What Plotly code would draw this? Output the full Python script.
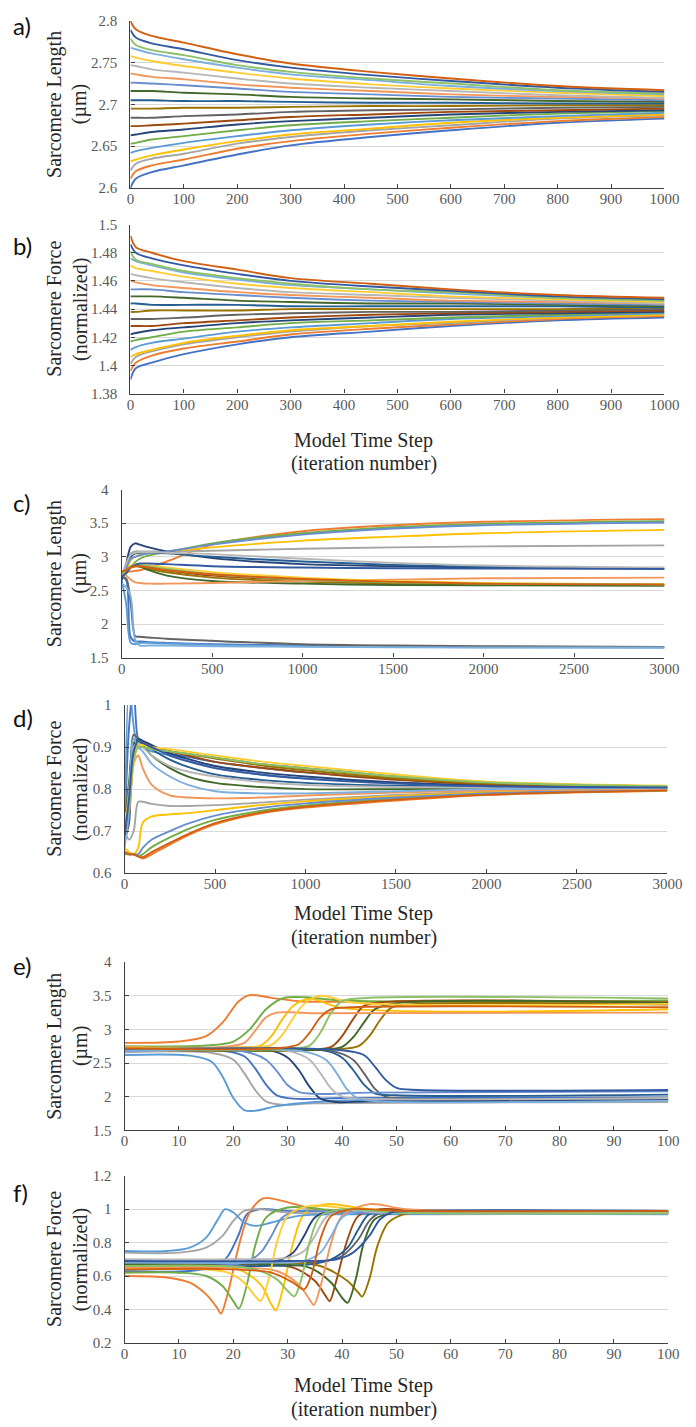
import plotly.graph_objects as go

W, H = 696, 1427

PALETTE = ["#4472C4", "#ED7D31", "#A5A5A5", "#FFC000", "#5B9BD5", "#70AD47",
           "#264478", "#9E480E", "#636363", "#997300", "#255E91", "#43682B",
           "#698ED0", "#F1975A", "#B7B7B7", "#FFCD33", "#7CAFDD", "#8CC168",
           "#335AA1", "#D26012"]

# ---------------- panel a : sarcomere length, 1000 steps ----------------
a_x = [0, 10, 40, 100, 200, 300, 450, 600, 800, 1000]
a_y = [
    [2.600, 2.611, 2.619, 2.627, 2.640, 2.651, 2.661, 2.669, 2.678, 2.683],
    [2.611, 2.620, 2.627, 2.634, 2.647, 2.656, 2.665, 2.672, 2.680, 2.685],
    [2.621, 2.629, 2.635, 2.641, 2.653, 2.661, 2.669, 2.675, 2.683, 2.687],
    [2.632, 2.634, 2.639, 2.646, 2.656, 2.664, 2.671, 2.678, 2.684, 2.688],
    [2.642, 2.644, 2.648, 2.654, 2.662, 2.669, 2.676, 2.681, 2.686, 2.690],
    [2.653, 2.654, 2.658, 2.662, 2.669, 2.675, 2.680, 2.684, 2.689, 2.692],
    [2.663, 2.664, 2.667, 2.670, 2.676, 2.680, 2.684, 2.688, 2.691, 2.693],
    [2.674, 2.674, 2.675, 2.677, 2.681, 2.685, 2.688, 2.691, 2.693, 2.695],
    [2.684, 2.684, 2.684, 2.686, 2.688, 2.691, 2.693, 2.694, 2.696, 2.697],
    [2.695, 2.695, 2.695, 2.696, 2.696, 2.697, 2.698, 2.698, 2.699, 2.699],
    [2.705, 2.705, 2.705, 2.704, 2.704, 2.703, 2.702, 2.702, 2.701, 2.701],
    [2.716, 2.716, 2.716, 2.714, 2.712, 2.709, 2.707, 2.706, 2.704, 2.703],
    [2.726, 2.726, 2.725, 2.723, 2.719, 2.715, 2.712, 2.709, 2.707, 2.705],
    [2.737, 2.736, 2.733, 2.730, 2.724, 2.720, 2.716, 2.712, 2.709, 2.707],
    [2.747, 2.746, 2.742, 2.738, 2.731, 2.725, 2.720, 2.716, 2.711, 2.708],
    [2.758, 2.756, 2.752, 2.746, 2.738, 2.731, 2.724, 2.719, 2.714, 2.710],
    [2.768, 2.766, 2.761, 2.754, 2.744, 2.736, 2.729, 2.722, 2.716, 2.712],
    [2.779, 2.771, 2.765, 2.759, 2.747, 2.739, 2.731, 2.725, 2.717, 2.713],
    [2.789, 2.780, 2.773, 2.766, 2.753, 2.744, 2.735, 2.728, 2.720, 2.715],
    [2.800, 2.790, 2.782, 2.774, 2.760, 2.749, 2.739, 2.731, 2.722, 2.717],
]

# ---------------- panel b : sarcomere force, 1000 steps ----------------
b_x = [0, 10, 40, 100, 200, 300, 450, 600, 800, 1000]
b_y = [
    [1.390, 1.398, 1.402, 1.408, 1.415, 1.420, 1.424, 1.428, 1.432, 1.434],
    [1.396, 1.402, 1.407, 1.412, 1.417, 1.422, 1.426, 1.429, 1.433, 1.435],
    [1.401, 1.406, 1.410, 1.415, 1.420, 1.424, 1.428, 1.430, 1.434, 1.436],
    [1.406, 1.408, 1.411, 1.416, 1.421, 1.425, 1.428, 1.431, 1.434, 1.436],
    [1.411, 1.413, 1.416, 1.419, 1.424, 1.427, 1.430, 1.433, 1.435, 1.437],
    [1.417, 1.418, 1.420, 1.424, 1.427, 1.430, 1.432, 1.434, 1.436, 1.438],
    [1.422, 1.423, 1.425, 1.427, 1.430, 1.432, 1.434, 1.436, 1.437, 1.438],
    [1.428, 1.428, 1.428, 1.430, 1.432, 1.434, 1.436, 1.437, 1.438, 1.439],
    [1.433, 1.433, 1.433, 1.434, 1.436, 1.437, 1.438, 1.438, 1.439, 1.440],
    [1.438, 1.438, 1.439, 1.439, 1.439, 1.440, 1.440, 1.440, 1.440, 1.441],
    [1.444, 1.444, 1.443, 1.443, 1.443, 1.442, 1.442, 1.442, 1.442, 1.441],
    [1.449, 1.449, 1.449, 1.448, 1.446, 1.445, 1.444, 1.444, 1.443, 1.442],
    [1.454, 1.454, 1.454, 1.452, 1.450, 1.448, 1.446, 1.445, 1.444, 1.443],
    [1.460, 1.459, 1.457, 1.455, 1.452, 1.450, 1.448, 1.446, 1.445, 1.444],
    [1.465, 1.464, 1.462, 1.459, 1.455, 1.452, 1.450, 1.448, 1.446, 1.444],
    [1.471, 1.469, 1.467, 1.463, 1.458, 1.455, 1.452, 1.449, 1.447, 1.445],
    [1.476, 1.474, 1.471, 1.466, 1.461, 1.457, 1.454, 1.451, 1.448, 1.446],
    [1.481, 1.475, 1.472, 1.467, 1.462, 1.458, 1.454, 1.452, 1.448, 1.446],
    [1.486, 1.480, 1.476, 1.471, 1.465, 1.460, 1.456, 1.453, 1.449, 1.447],
    [1.492, 1.484, 1.480, 1.474, 1.468, 1.462, 1.458, 1.454, 1.450, 1.448],
]

# ---------------- panel c : sarcomere length, 3000 steps ----------------
c_x = [0, 25, 50, 75, 100, 150, 250, 500, 1000, 1500, 2000, 3000]
c_y = [
    [2.70, 2.65, 1.80, 1.74, 1.74, 1.73, 1.72, 1.70, 1.68, 1.665, 1.66, 1.655],
    [2.78, 2.78, 2.78, 2.79, 2.80, 2.84, 2.93, 3.18, 3.38, 3.47, 3.52, 3.56],
    [2.72, 2.85, 3.05, 3.08, 3.08, 3.08, 3.08, 3.09, 3.12, 3.14, 3.155, 3.17],
    [2.70, 2.80, 2.95, 3.00, 3.03, 3.05, 3.08, 3.14, 3.24, 3.30, 3.35, 3.40],
    [2.65, 2.30, 1.72, 1.70, 1.72, 1.72, 1.71, 1.69, 1.67, 1.66, 1.655, 1.65],
    [2.70, 2.75, 2.85, 2.92, 2.97, 3.02, 3.07, 3.20, 3.35, 3.44, 3.49, 3.53],
    [2.65, 2.90, 3.15, 3.20, 3.18, 3.14, 3.08, 2.98, 2.89, 2.86, 2.84, 2.82],
    [2.75, 2.80, 2.85, 2.87, 2.86, 2.84, 2.80, 2.72, 2.65, 2.61, 2.59, 2.58],
    [2.70, 2.68, 2.30, 1.82, 1.81, 1.80, 1.78, 1.75, 1.70, 1.68, 1.67, 1.66],
    [2.72, 2.78, 2.84, 2.86, 2.85, 2.82, 2.77, 2.69, 2.63, 2.60, 2.59, 2.58],
    [2.70, 2.85, 3.00, 3.05, 3.06, 3.06, 3.05, 3.00, 2.93, 2.88, 2.85, 2.83],
    [2.74, 2.80, 2.86, 2.88, 2.86, 2.80, 2.72, 2.64, 2.60, 2.58, 2.575, 2.57],
    [2.72, 2.85, 2.97, 3.00, 3.02, 3.05, 3.08, 3.18, 3.33, 3.42, 3.47, 3.51],
    [2.76, 2.72, 2.66, 2.62, 2.61, 2.60, 2.60, 2.61, 2.64, 2.66, 2.68, 2.69],
    [2.72, 2.90, 3.03, 3.06, 3.07, 3.07, 3.06, 3.04, 2.97, 2.91, 2.87, 2.84],
    [2.76, 2.80, 2.86, 2.89, 2.89, 2.87, 2.84, 2.77, 2.69, 2.64, 2.61, 2.59],
    [2.60, 2.55, 2.40, 1.76, 1.68, 1.68, 1.68, 1.67, 1.66, 1.655, 1.65, 1.65],
    [2.74, 2.79, 2.85, 2.88, 2.88, 2.86, 2.82, 2.74, 2.66, 2.62, 2.60, 2.59],
    [2.70, 2.76, 2.84, 2.88, 2.90, 2.90, 2.89, 2.86, 2.84, 2.83, 2.825, 2.82],
    [2.78, 2.80, 2.84, 2.86, 2.86, 2.84, 2.80, 2.74, 2.67, 2.63, 2.60, 2.59],
]

# ---------------- panel d : sarcomere force, 3000 steps ----------------
d_x = [0, 25, 50, 75, 100, 150, 250, 350, 500, 750, 1000, 1500, 2000, 3000]
d_y = [
    [0.70, 0.95, 1.05, 0.92, 0.91, 0.90, 0.885, 0.877, 0.865, 0.851, 0.84, 0.825, 0.815, 0.806],
    [0.65, 0.645, 0.645, 0.64, 0.635, 0.645, 0.668, 0.69, 0.716, 0.742, 0.756, 0.773, 0.786, 0.796],
    [0.70, 0.68, 0.70, 0.77, 0.77, 0.765, 0.76, 0.76, 0.762, 0.768, 0.775, 0.786, 0.794, 0.800],
    [0.66, 0.65, 0.645, 0.66, 0.72, 0.735, 0.74, 0.743, 0.75, 0.762, 0.771, 0.783, 0.792, 0.799],
    [0.68, 1.05, 0.95, 0.90, 0.90, 0.89, 0.88, 0.868, 0.85, 0.835, 0.825, 0.815, 0.81, 0.805],
    [0.645, 0.645, 0.645, 0.64, 0.645, 0.662, 0.685, 0.705, 0.727, 0.748, 0.761, 0.777, 0.788, 0.797],
    [0.67, 0.75, 0.90, 0.92, 0.915, 0.905, 0.885, 0.872, 0.855, 0.84, 0.83, 0.816, 0.809, 0.805],
    [0.71, 0.76, 0.88, 0.915, 0.91, 0.90, 0.89, 0.88, 0.865, 0.851, 0.84, 0.822, 0.812, 0.806],
    [0.68, 0.72, 0.93, 0.92, 0.91, 0.90, 0.89, 0.884, 0.875, 0.86, 0.85, 0.83, 0.815, 0.806],
    [0.72, 0.76, 0.87, 0.91, 0.91, 0.90, 0.89, 0.883, 0.873, 0.857, 0.845, 0.826, 0.814, 0.807],
    [0.70, 0.80, 0.90, 0.92, 0.91, 0.895, 0.87, 0.853, 0.835, 0.822, 0.815, 0.808, 0.805, 0.803],
    [0.72, 0.82, 0.91, 0.915, 0.905, 0.88, 0.85, 0.83, 0.815, 0.805, 0.80, 0.80, 0.801, 0.802],
    [0.65, 0.645, 0.645, 0.645, 0.66, 0.68, 0.70, 0.718, 0.737, 0.755, 0.766, 0.78, 0.79, 0.798],
    [0.72, 0.75, 0.86, 0.88, 0.85, 0.81, 0.785, 0.78, 0.778, 0.78, 0.785, 0.792, 0.797, 0.801],
    [0.70, 0.80, 0.90, 0.91, 0.90, 0.88, 0.855, 0.842, 0.83, 0.817, 0.81, 0.805, 0.803, 0.802],
    [0.73, 0.77, 0.86, 0.905, 0.905, 0.90, 0.895, 0.889, 0.88, 0.866, 0.855, 0.835, 0.818, 0.808],
    [0.66, 0.75, 0.92, 0.90, 0.89, 0.86, 0.83, 0.81, 0.795, 0.79, 0.79, 0.795, 0.80, 0.804],
    [0.72, 0.76, 0.87, 0.90, 0.90, 0.895, 0.89, 0.884, 0.875, 0.86, 0.85, 0.83, 0.816, 0.807],
    [0.69, 0.78, 0.89, 0.915, 0.91, 0.90, 0.88, 0.866, 0.85, 0.835, 0.825, 0.813, 0.807, 0.804],
    [0.65, 0.645, 0.645, 0.64, 0.638, 0.65, 0.672, 0.693, 0.719, 0.744, 0.758, 0.775, 0.787, 0.797],
]

# ---------------- panel e : sarcomere length, 100 steps (per-line knots) ----------------
e_x = [
    [0, 18, 22, 24, 26, 28, 31, 40, 100],
    [0, 10, 15, 18, 21, 23, 27, 32, 40, 100],
    [0, 16, 20, 22, 24, 26, 29, 35, 100],
    [0, 20, 25, 27, 29, 31, 34, 40, 100],
    [0, 12, 16, 18, 20, 22, 24, 28, 35, 45, 100],
    [0, 15, 20, 23, 26, 29, 33, 40, 100],
    [0, 27, 30, 32, 34, 36, 39, 45, 100],
    [0, 34, 38, 40, 42, 44, 48, 100],
    [0, 38, 42, 44, 46, 48, 52, 100],
    [0, 38, 43, 45, 47, 49, 52, 100],
    [0, 37, 40, 42, 44, 46, 50, 100],
    [0, 36, 40, 42, 44, 46, 50, 100],
    [0, 22, 26, 28, 30, 32, 35, 45, 100],
    [0, 18, 22, 24, 26, 28, 35, 100],
    [0, 30, 34, 36, 38, 40, 44, 100],
    [0, 22, 27, 29, 31, 33, 36, 42, 100],
    [0, 33, 37, 39, 41, 43, 47, 100],
    [0, 30, 34, 36, 38, 40, 45, 100],
    [0, 40, 44, 46, 48, 50, 54, 100],
    [0, 28, 32, 34, 36, 38, 42, 100],
]
e_y = [
    [2.68, 2.68, 2.60, 2.42, 2.18, 2.02, 1.97, 1.98, 1.99],
    [2.80, 2.82, 2.90, 3.10, 3.42, 3.51, 3.47, 3.42, 3.41, 3.41],
    [2.66, 2.65, 2.55, 2.35, 2.10, 1.93, 1.88, 1.90, 1.92],
    [2.72, 2.73, 2.76, 2.90, 3.15, 3.35, 3.46, 3.32, 3.30],
    [2.62, 2.61, 2.52, 2.30, 1.98, 1.80, 1.79, 1.86, 1.92, 1.95, 1.95],
    [2.75, 2.76, 2.82, 3.00, 3.30, 3.46, 3.48, 3.43, 3.43],
    [2.69, 2.68, 2.58, 2.40, 2.15, 1.97, 1.92, 1.93, 1.95],
    [2.70, 2.70, 2.74, 2.90, 3.15, 3.35, 3.41, 3.40],
    [2.70, 2.68, 2.55, 2.35, 2.12, 2.00, 1.97, 1.98],
    [2.70, 2.70, 2.75, 2.90, 3.14, 3.32, 3.37, 3.37],
    [2.70, 2.68, 2.58, 2.40, 2.18, 2.05, 2.02, 2.03],
    [2.70, 2.70, 2.74, 2.88, 3.10, 3.30, 3.39, 3.39],
    [2.68, 2.67, 2.55, 2.38, 2.17, 2.07, 2.04, 2.06, 2.08],
    [2.74, 2.74, 2.80, 2.98, 3.18, 3.25, 3.24, 3.25],
    [2.69, 2.68, 2.55, 2.35, 2.12, 2.00, 1.97, 1.98],
    [2.73, 2.73, 2.77, 2.92, 3.17, 3.38, 3.50, 3.40, 3.38],
    [2.68, 2.67, 2.55, 2.35, 2.10, 1.97, 1.93, 1.94],
    [2.71, 2.71, 2.76, 2.95, 3.25, 3.42, 3.47, 3.46],
    [2.71, 2.69, 2.62, 2.45, 2.25, 2.13, 2.10, 2.10],
    [2.72, 2.72, 2.78, 2.95, 3.18, 3.30, 3.33, 3.33],
]

# ---------------- panel f : sarcomere force, 100 steps (per-line knots) ----------------
f_x = [
    [0, 12, 17, 19, 21, 22.5, 25, 30, 100],
    [0, 8, 12, 15, 17, 17.7, 19, 21, 23, 25.5, 29, 35, 45, 100],
    [0, 10, 15, 18, 20, 22, 25, 30, 100],
    [0, 16, 21, 25, 27, 27.8, 29.3, 31, 33, 37, 45, 100],
    [0, 8, 12, 15, 17, 18.5, 20, 22, 24, 27, 32, 40, 100],
    [0, 10, 15, 18, 20, 21, 22.5, 24, 26, 30, 40, 100],
    [0, 20, 28, 31, 33, 35, 38, 45, 100],
    [0, 25, 31, 35, 37, 37.7, 39, 41, 43, 47, 55, 100],
    [0, 28, 37, 40, 43, 45, 47, 52, 100],
    [0, 30, 36, 41, 43, 43.7, 45, 46.5, 48.5, 52, 58, 100],
    [0, 25, 34, 38, 41, 43, 45, 50, 100],
    [0, 28, 34, 38, 40, 41, 42.5, 44, 46, 50, 56, 100],
    [0, 15, 22, 25, 27, 29, 32, 40, 100],
    [0, 22, 28, 32, 34, 34.8, 36.2, 38, 40, 45, 52, 100],
    [0, 20, 30, 33, 35, 37, 40, 48, 100],
    [0, 14, 19, 22, 24, 25, 26.5, 28, 30, 34, 45, 100],
    [0, 25, 33, 36, 38, 40, 43, 50, 100],
    [0, 18, 24, 28, 30, 31.2, 32.5, 34, 36, 40, 50, 100],
    [0, 30, 39, 42, 45, 47, 49, 54, 100],
    [0, 20, 27, 31, 33, 34.3, 36, 38, 42, 50, 100],
]
f_y = [
    [0.63, 0.63, 0.66, 0.72, 0.85, 0.97, 1.00, 0.99, 0.985],
    [0.60, 0.59, 0.56, 0.49, 0.41, 0.375, 0.50, 0.78, 0.98, 1.065, 1.05, 1.00, 0.99, 0.99],
    [0.74, 0.74, 0.77, 0.84, 0.93, 0.99, 1.00, 0.98, 0.975],
    [0.66, 0.66, 0.64, 0.55, 0.43, 0.395, 0.55, 0.80, 0.97, 1.03, 1.00, 0.99],
    [0.75, 0.75, 0.77, 0.83, 0.93, 1.00, 0.98, 0.92, 0.90, 0.92, 0.96, 0.97, 0.97],
    [0.62, 0.62, 0.60, 0.54, 0.45, 0.405, 0.55, 0.78, 0.95, 1.01, 0.99, 0.985],
    [0.67, 0.67, 0.69, 0.74, 0.84, 0.95, 0.99, 0.98, 0.98],
    [0.67, 0.67, 0.65, 0.57, 0.48, 0.449, 0.58, 0.82, 0.96, 1.00, 0.99, 0.985],
    [0.68, 0.68, 0.69, 0.72, 0.82, 0.93, 0.98, 0.985, 0.98],
    [0.68, 0.68, 0.66, 0.57, 0.50, 0.477, 0.58, 0.78, 0.92, 0.975, 0.98, 0.975],
    [0.66, 0.66, 0.67, 0.70, 0.77, 0.88, 0.97, 0.985, 0.985],
    [0.67, 0.67, 0.65, 0.56, 0.47, 0.44, 0.58, 0.80, 0.94, 0.98, 0.98, 0.98],
    [0.66, 0.66, 0.68, 0.74, 0.84, 0.95, 0.99, 0.98, 0.98],
    [0.65, 0.65, 0.63, 0.55, 0.46, 0.427, 0.56, 0.80, 0.96, 1.03, 1.00, 0.99],
    [0.70, 0.70, 0.71, 0.75, 0.84, 0.95, 0.99, 0.98, 0.975],
    [0.64, 0.64, 0.62, 0.56, 0.48, 0.45, 0.58, 0.80, 0.96, 1.02, 0.99, 0.98],
    [0.68, 0.68, 0.69, 0.74, 0.84, 0.95, 0.99, 0.98, 0.975],
    [0.66, 0.66, 0.64, 0.58, 0.51, 0.478, 0.58, 0.80, 0.96, 1.00, 0.98, 0.975],
    [0.69, 0.69, 0.70, 0.74, 0.84, 0.94, 0.98, 0.99, 0.99],
    [0.64, 0.64, 0.62, 0.56, 0.52, 0.60, 0.82, 0.96, 1.00, 0.99, 0.99],
]

# ---------------- tick labels ----------------
x_ticks_1000 = [0, 100, 200, 300, 400, 500, 600, 700, 800, 900, 1000]
x_ticks_3000 = [0, 500, 1000, 1500, 2000, 2500, 3000]
x_ticks_100 = [0, 10, 20, 30, 40, 50, 60, 70, 80, 90, 100]
a_yticks = [2.6, 2.65, 2.7, 2.75, 2.8]
a_ytext = ["2.6", "2.65", "2.7", "2.75", "2.8"]
b_yticks = [1.38, 1.40, 1.42, 1.44, 1.46, 1.48, 1.50]
b_ytext = ["1.38", "1.4", "1.42", "1.44", "1.46", "1.48", "1.5"]
len_yticks = [1.5, 2, 2.5, 3, 3.5, 4]
len_ytext = ["1.5", "2", "2.5", "3", "3.5", "4"]
d_yticks = [0.6, 0.7, 0.8, 0.9, 1.0]
d_ytext = ["0.6", "0.7", "0.8", "0.9", "1"]
f_yticks = [0.2, 0.4, 0.6, 0.8, 1.0, 1.2]
f_ytext = ["0.2", "0.4", "0.6", "0.8", "1", "1.2"]

panels = [
    dict(label="a)", xs=a_x, ys=a_y, per_line=False, xr=[0, 1000], yr=[2.6, 2.8],
         xt=x_ticks_1000, yt=a_yticks, ytt=a_ytext, px=(130, 679), py=(13, 182),
         ytitle=("Sarcomere Length", "(µm)"), lab_y=18),
    dict(label="b)", xs=b_x, ys=b_y, per_line=False, xr=[0, 1000], yr=[1.38, 1.5],
         xt=x_ticks_1000, yt=b_yticks, ytt=b_ytext, px=(130, 679), py=(219, 390),
         ytitle=("Sarcomere Force", "(normalized)"), lab_y=240),
    dict(label="c)", xs=c_x, ys=c_y, per_line=False, xr=[0, 3000], yr=[1.5, 4],
         xt=x_ticks_3000, yt=len_yticks, ytt=len_ytext, px=(121, 679), py=(487, 657),
         ytitle=("Sarcomere Length", "(µm)"), lab_y=500),
    dict(label="d)", xs=d_x, ys=d_y, per_line=False, xr=[0, 3000], yr=[0.6, 1.0],
         xt=x_ticks_3000, yt=d_yticks, ytt=d_ytext, px=(124, 682), py=(705, 875),
         ytitle=("Sarcomere Force", "(normalized)"), lab_y=718),
    dict(label="e)", xs=e_x, ys=e_y, per_line=True, xr=[0, 100], yr=[1.5, 4],
         xt=x_ticks_100, yt=len_yticks, ytt=len_ytext, px=(124, 683), py=(965, 1135),
         ytitle=("Sarcomere Length", "(µm)"), lab_y=968),
    dict(label="f)", xs=f_x, ys=f_y, per_line=True, xr=[0, 100], yr=[0.2, 1.2],
         xt=x_ticks_100, yt=f_yticks, ytt=f_ytext, px=(124, 683), py=(1181, 1350),
         ytitle=("Sarcomere Force", "(normalized)"), lab_y=1198),
]

SERIF = "Liberation Serif, Times New Roman, DejaVu Serif, serif"
TICKFONT = dict(family=SERIF, size=15, color="#595959")
TITLEFONT = dict(family=SERIF, size=20, color="#262626")
AXCOL = "#404040"

fig = go.Figure()
layout = dict(width=W, height=H, margin=dict(l=0, r=0, t=0, b=0),
              paper_bgcolor="white", plot_bgcolor="white", showlegend=False,
              font=dict(family=SERIF))
annotations = []

for i, p in enumerate(panels, start=1):
    xa = "x" if i == 1 else f"x{i}"
    ya = "y" if i == 1 else f"y{i}"
    for k, yv in enumerate(p["ys"]):
        xv = p["xs"][k] if p["per_line"] else p["xs"]
        fig.add_trace(go.Scatter(x=xv, y=yv, mode="lines", xaxis=xa, yaxis=ya,
                                 line=dict(color=PALETTE[k % len(PALETTE)], width=1.9,
                                           shape="spline", smoothing=0.9),
                                 hoverinfo="skip"))
    l, r = p["px"]
    t, b = p["py"]
    layout[f"xaxis{i}"] = dict(domain=[l / W, r / W], range=p["xr"], anchor=ya,
                               tickvals=p["xt"], ticktext=[str(v) for v in p["xt"]],
                               showgrid=False, zeroline=False, showline=True,
                               linecolor=AXCOL, linewidth=1.3, ticks="inside",
                               ticklen=4, tickcolor=AXCOL, tickfont=TICKFONT,
                               ticklabelstandoff=-3, fixedrange=True)
    layout[f"yaxis{i}"] = dict(domain=[1 - b / H, 1 - t / H], range=p["yr"], anchor=xa,
                               tickvals=p["yt"], ticktext=p["ytt"],
                               showgrid=True, gridcolor="#D9D9D9", gridwidth=1,
                               zeroline=False, showline=True, linecolor=AXCOL,
                               linewidth=1.3, ticks="inside", ticklen=4, tickcolor=AXCOL,
                               tickfont=TICKFONT, ticklabelstandoff=9, fixedrange=True)
    cy = (t + b) / 2
    annotations.append(dict(text=p["ytitle"][0], x=52 / W, y=1 - cy / H, xref="paper",
                            yref="paper", textangle=-90, showarrow=False,
                            font=TITLEFONT, xanchor="center", yanchor="middle"))
    annotations.append(dict(text=p["ytitle"][1], x=78 / W, y=1 - cy / H, xref="paper",
                            yref="paper", textangle=-90, showarrow=False,
                            font=TITLEFONT, xanchor="center", yanchor="middle"))
    annotations.append(dict(text=p["label"], x=7 / W, y=1 - p["lab_y"] / H, xref="paper",
                            yref="paper", showarrow=False, xanchor="left",
                            yanchor="middle",
                            font=dict(family="Lato", size=24, color="#111111")))

for ty in (437, 916, 1393):
    annotations.append(dict(text="Model Time Step", x=370 / W, y=1 - ty / H,
                            xref="paper", yref="paper", showarrow=False,
                            xanchor="center", yanchor="middle", font=TITLEFONT))
    annotations.append(dict(text="(iteration number)", x=370 / W, y=1 - (ty + 24) / H,
                            xref="paper", yref="paper", showarrow=False,
                            xanchor="center", yanchor="middle", font=TITLEFONT))

layout["annotations"] = annotations
fig.update_layout(**layout)
fig.write_html("out.html")
